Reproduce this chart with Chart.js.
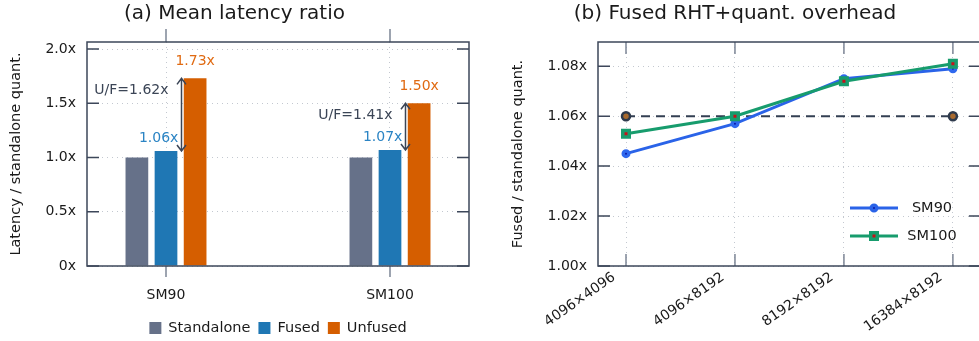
<!DOCTYPE html>
<html>
<head>
<meta charset="utf-8">
<script src="https://cdn.jsdelivr.net/npm/chart.js@4"></script>
<style>
  html, body { margin: 0; padding: 0; background: #fff; overflow: hidden; }
  #wrap { position: relative; width: 979px; height: 341px; overflow: hidden; }
  #latency { position: absolute; left: 0; top: 0; }
  #overhead { position: absolute; left: 489px; top: 0; }
</style>
</head>
<body>
<div id="wrap">
  <canvas id="latency" width="489" height="341"></canvas>
  <canvas id="overhead" width="500" height="341"></canvas>
</div>
<script>
const FONT = "'DejaVu Sans', sans-serif";
const INK = "#1a1a1a";
const FRAME = "#3d475a";
const TICK_LIGHT = "#7d8696";
const GRID = "#c3c8d0";

// (a) mean latency ratio
const groups = ["SM90", "SM100"];
const standalone = [1.0, 1.0];
const fused = [1.06, 1.07];
const unfused = [1.73, 1.5];
const ufRatio = [1.62, 1.41];
const latencyTicks = [0, 0.5, 1.0, 1.5, 2.0];
const seriesNames = ["Standalone", "Fused", "Unfused"];
const seriesColors = ["#667189", "#1f77b4", "#d55e00"];

// (b) fused overhead per shape
const shapes = ["4096×4096", "4096×8192", "8192×8192", "16384×8192"];
const sm90 = [1.045, 1.057, 1.075, 1.079];
const sm100 = [1.053, 1.06, 1.074, 1.081];
const refLevel = 1.06;
const overheadTicks = [1.0, 1.02, 1.04, 1.06, 1.08];

Chart.defaults.font.family = FONT;
Chart.defaults.color = INK;

// box + inward/outward tick marks, gnuplot style
function framePlugin(cfg) {
  return {
    id: "frame",
    afterDatasetsDraw(chart) {
      const { ctx, chartArea: a, scales } = chart;
      ctx.save();
      ctx.lineWidth = 1.5;
      ctx.strokeStyle = FRAME;
      ctx.beginPath();
      scales.y.ticks.forEach(t => {
        const y = scales.y.getPixelForValue(t.value);
        ctx.moveTo(a.left, y); ctx.lineTo(a.left + cfg.yTick, y);
        ctx.moveTo(a.right, y); ctx.lineTo(a.right - cfg.yTick, y);
      });
      ctx.stroke();
      ctx.strokeStyle = TICK_LIGHT;
      ctx.beginPath();
      scales.x.ticks.forEach(t => {
        const x = scales.x.getPixelForValue(t.value);
        ctx.moveTo(x, a.top); ctx.lineTo(x, a.top + cfg.xTickTop);
        ctx.moveTo(x, a.bottom); ctx.lineTo(x, a.bottom + cfg.xTickBottom);
      });
      ctx.stroke();
      ctx.strokeStyle = FRAME;
      ctx.strokeRect(a.left, a.top, a.right - a.left, a.bottom - a.top);
      ctx.restore();
    }
  };
}

const latencyNotes = {
  id: "latencyNotes",
  afterDatasetsDraw(chart) {
    const { ctx } = chart;
    const y = chart.scales.y;
    const fusedBars = chart.getDatasetMeta(1).data;
    const unfusedBars = chart.getDatasetMeta(2).data;
    ctx.save();
    ctx.font = "14px " + FONT;
    ctx.textBaseline = "middle";
    groups.forEach((g, i) => {
      const f = fusedBars[i], u = unfusedBars[i];
      const fRight = f.x + f.width / 2;
      const uLeft = u.x - u.width / 2;
      const ax = Math.round((fRight + uLeft) / 2) + 0.5;
      const yF = y.getPixelForValue(fused[i]);
      const yU = y.getPixelForValue(unfused[i]);
      ctx.strokeStyle = "#3b4556";
      ctx.lineWidth = 1.5;
      ctx.beginPath();
      ctx.moveTo(ax, yF); ctx.lineTo(ax, yU);
      ctx.moveTo(ax - 4.5, yU + 6); ctx.lineTo(ax, yU); ctx.lineTo(ax + 4.5, yU + 6);
      ctx.moveTo(ax - 4.5, yF - 6); ctx.lineTo(ax, yF); ctx.lineTo(ax + 4.5, yF - 6);
      ctx.stroke();

      ctx.fillStyle = "#e06a12";
      ctx.textAlign = "center";
      ctx.fillText(unfused[i].toFixed(2) + "x", u.x, yU - 17);
      ctx.fillStyle = "#2b84c4";
      ctx.textAlign = "right";
      ctx.fillText(fused[i].toFixed(2) + "x", fRight + 1, yF - 13);
      ctx.fillStyle = "#3b4556";
      ctx.fillText("U/F=" + ufRatio[i].toFixed(2) + "x", ax - 13, yU + 12);
    });
    ctx.restore();
  }
};

const latencyLegend = {
  id: "latencyLegend",
  afterDraw(chart) {
    const { ctx, chartArea: a } = chart;
    ctx.save();
    ctx.font = "14.5px " + FONT;
    ctx.textBaseline = "middle";
    ctx.textAlign = "left";
    const widths = seriesNames.map(n => 12 + 7 + ctx.measureText(n).width);
    const total = widths.reduce((s, w) => s + w, 0) + 8 * (widths.length - 1);
    let x = (a.left + a.right) / 2 - total / 2;
    seriesNames.forEach((n, i) => {
      ctx.fillStyle = seriesColors[i];
      ctx.fillRect(x, 322, 12, 12);
      ctx.fillStyle = INK;
      ctx.fillText(n, x + 19, 328.5);
      x += widths[i] + 8;
    });
    ctx.restore();
  }
};

const toPoints = arr => arr.map((v, i) => ({ x: i, y: v }));

new Chart(document.getElementById("latency"), {
  type: "bar",
  data: {
    datasets: [standalone, fused, unfused].map((vals, k) => ({
      label: seriesNames[k],
      data: toPoints(vals),
      backgroundColor: seriesColors[k],
      categoryPercentage: 0.39,
      barPercentage: 0.78,
    })),
  },
  options: {
    responsive: false,
    animation: false,
    devicePixelRatio: 1,
    layout: { padding: { left: 0, right: 20, top: 0, bottom: 0 } },
    plugins: {
      legend: { display: false },
      tooltip: { enabled: false },
      title: {
        display: true,
        text: "(a) Mean latency ratio",
        font: { size: 20, weight: "normal" },
        color: INK,
        padding: { top: 2, bottom: 16 },
      },
    },
    scales: {
      x: {
        type: "linear",
        min: -0.3527,
        max: 1.3527,
        offset: false,
        afterBuildTicks: s => { s.ticks = groups.map((_, i) => ({ value: i })); },
        afterFit: s => { s.height = 75; },
        ticks: {
          callback: v => groups[v],
          font: { size: 14 },
          color: INK,
          padding: 21,
          autoSkip: false,
          maxRotation: 0,
        },
        grid: { offset: false, color: GRID, lineWidth: 1, drawTicks: false },
        border: { display: false, dash: [1, 4] },
      },
      y: {
        min: 0,
        max: 2.065,
        afterBuildTicks: s => { s.ticks = latencyTicks.map(v => ({ value: v })); },
        afterFit: s => { s.width = 87; },
        ticks: {
          callback: v => (v === 0 ? "0x" : v.toFixed(1) + "x"),
          font: { size: 14 },
          color: INK,
          padding: 11,
        },
        grid: { color: GRID, lineWidth: 1, drawTicks: false },
        border: { display: false, dash: [1, 4] },
        title: {
          display: true,
          text: "Latency / standalone quant.",
          font: { size: 14.5 },
          color: INK,
          padding: { top: 8, bottom: 0 },
        },
      },
    },
  },
  plugins: [framePlugin({ yTick: 12, xTickTop: -13, xTickBottom: 11 }), latencyNotes, latencyLegend],
});

const overheadLegend = {
  id: "overheadLegend",
  afterDraw(chart) {
    const { ctx } = chart;
    const rows = [
      { name: "SM90", y: 208, line: "#2a63e8", fill: "#0b1aa6", shape: "circle" },
      { name: "SM100", y: 236, line: "#179c6d", fill: "#c8101a", shape: "rect" },
    ];
    ctx.save();
    ctx.font = "14.5px " + FONT;
    ctx.textBaseline = "middle";
    ctx.textAlign = "center";
    rows.forEach(r => {
      ctx.strokeStyle = r.line;
      ctx.lineWidth = 3;
      ctx.beginPath();
      ctx.moveTo(361, r.y); ctx.lineTo(409, r.y);
      ctx.stroke();
      ctx.lineWidth = 3.5;
      ctx.fillStyle = r.fill;
      ctx.beginPath();
      if (r.shape === "circle") ctx.arc(385, r.y, 2.75, 0, Math.PI * 2);
      else ctx.rect(385 - 3.25, r.y - 3.25, 6.5, 6.5);
      ctx.fill();
      ctx.stroke();
      ctx.fillStyle = INK;
      ctx.fillText(r.name, 443, r.y + 0.5);
    });
    ctx.restore();
  }
};

new Chart(document.getElementById("overhead"), {
  type: "line",
  data: {
    datasets: [
      {
        label: "SM100",
        data: toPoints(sm100),
        borderColor: "#179c6d",
        borderWidth: 3,
        pointStyle: "rect",
        pointRadius: 4.6,
        pointBorderWidth: 3.5,
        pointBorderColor: "#179c6d",
        pointBackgroundColor: "#c8101a",
      },
      {
        label: "SM90",
        data: toPoints(sm90),
        borderColor: "#2a63e8",
        borderWidth: 3,
        pointStyle: "circle",
        pointRadius: 2.75,
        pointBorderWidth: 3.5,
        pointBorderColor: "#2f68ee",
        pointBackgroundColor: "#0b1aa6",
      },
      {
        label: "reference",
        data: [{ x: 0, y: refLevel }, { x: shapes.length - 1, y: refLevel }],
        borderColor: "#333f52",
        borderWidth: 2,
        borderDash: [9, 6],
        pointStyle: "circle",
        pointRadius: 4,
        pointBorderWidth: 2.5,
        pointBorderColor: "#2e3a4c",
        pointBackgroundColor: "#a86a2e",
      },
    ],
  },
  options: {
    responsive: false,
    animation: false,
    devicePixelRatio: 1,
    layout: { padding: { left: 0, right: 8, top: 0, bottom: 0 } },
    plugins: {
      legend: { display: false },
      tooltip: { enabled: false },
      title: {
        display: true,
        text: "(b) Fused RHT+quant. overhead",
        font: { size: 20, weight: "normal" },
        color: INK,
        padding: { top: 2, bottom: 16 },
      },
    },
    scales: {
      x: {
        type: "linear",
        min: -0.257,
        max: shapes.length - 1 + 0.257,
        afterBuildTicks: s => { s.ticks = shapes.map((_, i) => ({ value: i })); },
        afterFit: s => { s.height = 75; },
        ticks: {
          callback: v => shapes[v],
          font: { size: 14 },
          color: INK,
          padding: 3,
          autoSkip: false,
          minRotation: 35,
          maxRotation: 35,
          labelOffset: -12,
        },
        grid: { color: GRID, lineWidth: 1, drawTicks: false },
        border: { display: false, dash: [1, 4] },
      },
      y: {
        min: 1.0,
        max: 1.0897,
        afterBuildTicks: s => { s.ticks = overheadTicks.map(v => ({ value: v })); },
        afterFit: s => { s.width = 109; },
        ticks: {
          callback: v => v.toFixed(2) + "x",
          font: { size: 14 },
          color: INK,
          padding: 11,
        },
        grid: { color: GRID, lineWidth: 1, drawTicks: false },
        border: { display: false, dash: [1, 4] },
        title: {
          display: true,
          text: "Fused / standalone quant.",
          font: { size: 14.5 },
          color: INK,
          padding: { top: 21, bottom: 0 },
        },
      },
    },
  },
  plugins: [framePlugin({ yTick: 12, xTickTop: 12, xTickBottom: -12 }), overheadLegend],
});
</script>
</body>
</html>
